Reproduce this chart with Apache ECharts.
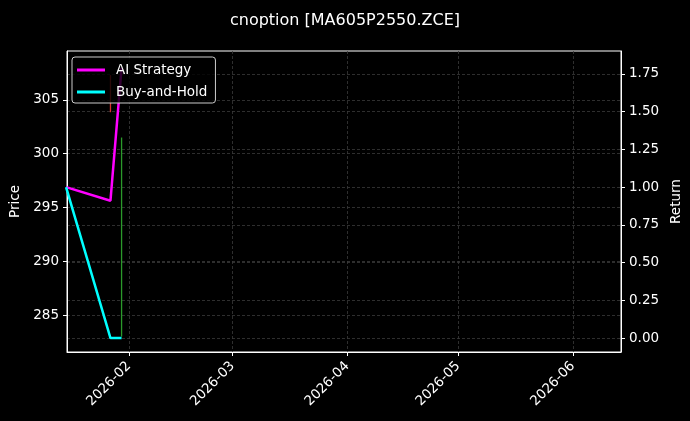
<!DOCTYPE html>
<html>
  <head>
    <meta charset="utf-8" />
    <title>cnoption</title>
    <style>
      html,
      body {
        width: 100%;
        height: 100%;
        margin: 0;
        padding: 0;
        background: #000;
      }
      #chart-container {
        width: 690px;
        height: 421px;
      }
    </style>
    <script src="https://cdn.jsdelivr.net/npm/echarts@6/dist/echarts.min.js"></script>
  </head>
  <body>
    <div id="chart-container"></div>

    <script>
      // 收益曲线（右轴）
      var dates = ["2026-01-15", "2026-01-27", "2026-01-30"];
      var aiReturn = [1.0, 0.91, 1.79];
      var bhReturn = [1.0, 0.0, 0.0];

      // K线（左轴，只画高低线）
      var candleDates = ["2026-01-27", "2026-01-30"];
      var candleOpen = [307.0, 283.0];
      var candleClose = [304.0, 301.5];
      var candleLow = [303.85, 283.0];
      var candleHigh = [307.3, 301.5];

      // 刻度
      var monthTicks = ["2026-02", "2026-03", "2026-04", "2026-05", "2026-06"];
      var priceTicks = [285, 290, 295, 300, 305];
      var returnTicks = [0, 0.25, 0.5, 0.75, 1.0, 1.25, 1.5, 1.75];

      var xMin = "2026-01-15 06:00";
      var xMax = "2026-06-14";

      function day(s) {
        return echarts.time.parse(s).getTime();
      }

      var monthValues = monthTicks.map(function (m) {
        return day(m + "-01");
      });

      var font = "DejaVu Sans";
      var gridLine = { show: true, lineStyle: { color: "#3a3a3a", width: 0.8, type: [3, 2] } };

      var myChart = echarts.init(document.getElementById("chart-container"), null, {
        renderer: "canvas",
      });

      var option = {
        backgroundColor: "#000",
        animation: false,
        textStyle: { fontFamily: font },
        title: {
          text: "cnoption [MA605P2550.ZCE]",
          left: "center",
          top: 8,
          textStyle: { color: "#fff", fontSize: 16, fontWeight: "normal", fontFamily: font },
        },
        legend: {
          orient: "vertical",
          left: 72,
          top: 57,
          padding: [5, 8, 3, 5],
          itemGap: 6,
          itemWidth: 28,
          itemHeight: 3,
          icon: "rect",
          backgroundColor: "rgba(0,0,0,0.8)",
          borderColor: "#cccccc",
          borderWidth: 1,
          borderRadius: 3,
          textStyle: { color: "#fff", fontSize: 13.5, fontFamily: font, padding: [0, 0, 0, 6], lineHeight: 16 },
          data: ["AI Strategy", "Buy-and-Hold"],
        },
        grid: {
          left: 67,
          right: 69,
          top: 51,
          bottom: 69,
          outerBoundsMode: "none",
          containLabel: false,
          show: true,
          borderColor: "#fff",
          borderWidth: 1,
        },
        xAxis: {
          type: "value",
          min: day(xMin),
          max: day(xMax),
          axisLine: { onZero: false, lineStyle: { color: "#fff" } },
          axisTick: {
            show: true,
            length: 4,
            lineStyle: { color: "#fff" },
            customValues: monthValues,
          },
          axisLabel: {
            color: "#fff",
            fontSize: 13.5,
            rotate: 45,
            margin: 12,
            customValues: monthValues,
            formatter: function (v) {
              return echarts.time.format(v, "{yyyy}-{MM}", false);
            },
          },
          splitLine: gridLine,
        },
        yAxis: [
          {
            type: "value",
            name: "Price",
            nameLocation: "middle",
            nameGap: 43,
            nameRotate: 90,
            nameTextStyle: { color: "#fff", fontSize: 13.5 },
            min: 281.57,
            max: 309.54,
            axisLine: { show: true, onZero: false, lineStyle: { color: "#fff" } },
            axisTick: { show: true, length: 4, lineStyle: { color: "#fff" }, customValues: priceTicks },
            axisLabel: { color: "#fff", fontSize: 13.5, margin: 8, customValues: priceTicks },
            splitLine: gridLine,
          },
          {
            type: "value",
            name: "Return",
            position: "right",
            nameLocation: "middle",
            nameGap: 45,
            nameRotate: 90,
            nameTextStyle: { color: "#fff", fontSize: 13.5 },
            min: -0.0925,
            max: 1.902,
            axisLine: { show: true, onZero: false, lineStyle: { color: "#fff" } },
            axisTick: { show: true, length: 4, lineStyle: { color: "#fff" }, customValues: returnTicks },
            axisLabel: {
              color: "#fff",
              fontSize: 13.5,
              margin: 8,
              customValues: returnTicks,
              formatter: function (v) {
                return v.toFixed(2);
              },
            },
            splitLine: gridLine,
          },
        ],
        series: [
          {
            name: "Candles",
            type: "custom",
            yAxisIndex: 0,
            z: 2,
            encode: { x: 0, y: [1, 2] },
            data: candleDates.map(function (d, i) {
              return [day(d), candleLow[i], candleHigh[i], candleOpen[i], candleClose[i]];
            }),
            renderItem: function (params, api) {
              var p1 = api.coord([api.value(0), api.value(1)]);
              var p2 = api.coord([api.value(0), api.value(2)]);
              var up = api.value(4) >= api.value(3);
              return {
                type: "line",
                shape: { x1: p1[0], y1: p1[1], x2: p2[0], y2: p2[1] },
                style: { stroke: up ? "#2a9a2a" : "#d83030", lineWidth: 1.3 },
              };
            },
          },
          {
            name: "AI Strategy",
            type: "line",
            yAxisIndex: 1,
            symbol: "none",
            z: 3,
            lineStyle: { color: "#ff00ff", width: 2.5 },
            itemStyle: { color: "#ff00ff" },
            data: dates.map(function (d, i) { return [day(d), aiReturn[i]]; }),
          },
          {
            name: "Buy-and-Hold",
            type: "line",
            yAxisIndex: 1,
            symbol: "none",
            z: 3,
            lineStyle: { color: "#00ffff", width: 2.5 },
            itemStyle: { color: "#00ffff" },
            data: dates.map(function (d, i) { return [day(d), bhReturn[i]]; }),
          },
        ],
      };

      myChart.setOption(option);
    </script>
  </body>
</html>
